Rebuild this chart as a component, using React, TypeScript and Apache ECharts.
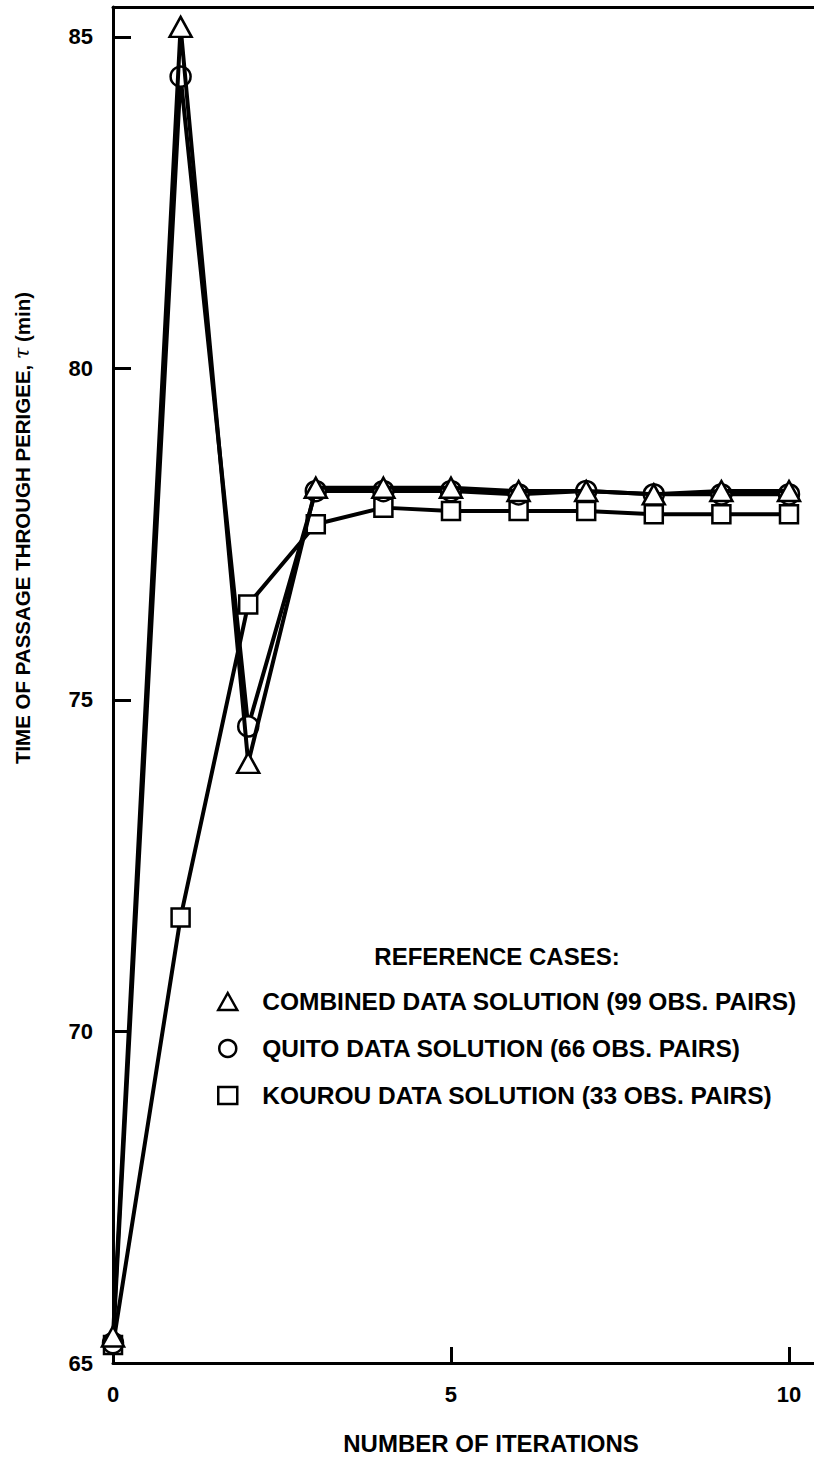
import React, { useEffect, useRef } from "react";
import * as echarts from "echarts";

const iterations = [0, 1, 2, 3, 4, 5, 6, 7, 8, 9, 10];
const combined = [65.4, 85.15, 74.05, 78.2, 78.2, 78.2, 78.15, 78.15, 78.1, 78.15, 78.15];
const quito = [65.3, 84.4, 74.6, 78.15, 78.15, 78.15, 78.1, 78.15, 78.1, 78.1, 78.1];
const kourou = [65.27, 71.72, 76.44, 77.65, 77.9, 77.85, 77.85, 77.85, 77.8, 77.8, 77.8];

const xLabels = [0, 5, 10];
const xTicks = [5, 10];
const yLabels = [65, 70, 75, 80, 85];
const yTicks = [70, 75, 80, 85];

const names = [
  "COMBINED DATA SOLUTION (99 OBS. PAIRS)",
  "QUITO DATA SOLUTION (66 OBS. PAIRS)",
  "KOUROU DATA SOLUTION (33 OBS. PAIRS)",
];
const legendTitle = "REFERENCE CASES:";
const xName = "NUMBER OF ITERATIONS";
const yNameA = "TIME OF PASSAGE THROUGH PERIGEE, ";
const yNameTau = "τ";
const yNameB = " (min)";

const FONT = "'Liberation Sans', Arial, sans-serif";

export default function App() {
  const ref = useRef<HTMLDivElement>(null);
  useEffect(() => {
    if (!ref.current) return;
    const chart = echarts.init(ref.current, null, { renderer: "svg" });
    const mk = (vals: number[]) => vals.map((v, i) => [iterations[i], v]);
    const markerStyle = { color: "#fff", borderColor: "#000", borderWidth: 2.5 };
    const lineStyle = { color: "#000", width: 4 };
    chart.setOption({
      animation: false,
      backgroundColor: "#fff",
      textStyle: { fontFamily: FONT },
      grid: { left: 113, right: 0, top: 7, bottom: 95, containLabel: false },
      xAxis: [
        {
          type: "value",
          min: 0,
          max: 10.37,
          axisLine: { show: true, onZero: false, lineStyle: { color: "#000", width: 3 } },
          axisTick: { show: true, inside: true, length: 16, customValues: xTicks, lineStyle: { color: "#000", width: 3 } },
          axisLabel: { customValues: xLabels, margin: 20, fontSize: 22, fontWeight: "bold", color: "#000", fontFamily: FONT },
          splitLine: { show: false },
        },
        {
          type: "value",
          position: "top",
          min: 0,
          max: 10.37,
          axisLine: { show: true, onZero: false, lineStyle: { color: "#000", width: 3 } },
          axisTick: { show: false },
          axisLabel: { show: false },
          splitLine: { show: false },
        },
      ],
      yAxis: {
        type: "value",
        min: 65,
        max: 85.45,
        axisLine: { show: true, onZero: false, lineStyle: { color: "#000", width: 3 } },
        axisTick: { show: true, inside: true, length: 18, customValues: yTicks, lineStyle: { color: "#000", width: 3 } },
        axisLabel: { customValues: yLabels, margin: 20, fontSize: 22, fontWeight: "bold", color: "#000", fontFamily: FONT },
        splitLine: { show: false },
      },
      legend: {
        data: [
          { name: names[0], icon: "triangle" },
          { name: names[1], icon: "circle" },
          { name: names[2], icon: "rect" },
        ],
        orient: "vertical",
        left: 212,
        top: 984,
        itemWidth: 19,
        itemHeight: 17,
        itemGap: 22,
        selectedMode: false,
        itemStyle: { color: "#fff", borderColor: "#000", borderWidth: 2.5 },
        textStyle: { fontSize: 24.5, fontWeight: "bold", color: "#000", fontFamily: FONT, padding: [0, 0, 0, 20] },
      },
      graphic: [
        {
          type: "text",
          x: 497,
          y: 956,
          style: { text: legendTitle, font: `bold 24px ${FONT}`, fill: "#000", align: "center", verticalAlign: "middle" },
        },
        {
          type: "text",
          x: 491,
          y: 1443,
          style: { text: xName, font: `bold 24px ${FONT}`, fill: "#000", align: "center", verticalAlign: "middle" },
        },
        {
          type: "text",
          x: 22,
          y: 528,
          rotation: Math.PI / 2,
          style: {
            text: `{a|${yNameA}}{t|${yNameTau}}{a|${yNameB}}`,
            align: "center",
            verticalAlign: "middle",
            fill: "#000",
            rich: {
              a: { fontSize: 20.5, fontWeight: "bold", fontFamily: FONT, fill: "#000" },
              t: { fontSize: 20.5, fontStyle: "italic", fontFamily: "'DejaVu Serif', serif", fill: "#000" },
            },
          },
        },
      ],
      series: [
        {
          name: names[2],
          type: "line",
          data: mk(kourou),
          symbol: "rect",
          symbolSize: 18,
          showAllSymbol: true,
          itemStyle: markerStyle,
          lineStyle,
          clip: false,
          z: 2,
        },
        {
          name: names[1],
          type: "line",
          data: mk(quito),
          symbol: "circle",
          symbolSize: 20,
          showAllSymbol: true,
          itemStyle: markerStyle,
          lineStyle,
          clip: false,
          z: 3,
        },
        {
          name: names[0],
          type: "line",
          data: mk(combined),
          symbol: "triangle",
          symbolSize: [22, 20],
          showAllSymbol: true,
          itemStyle: markerStyle,
          lineStyle,
          clip: false,
          z: 4,
        },
      ],
    });
    return () => chart.dispose();
  }, []);
  return <div ref={ref} style={{ position: "absolute", left: 0, top: 0, width: 814, height: 1458 }} />;
}
